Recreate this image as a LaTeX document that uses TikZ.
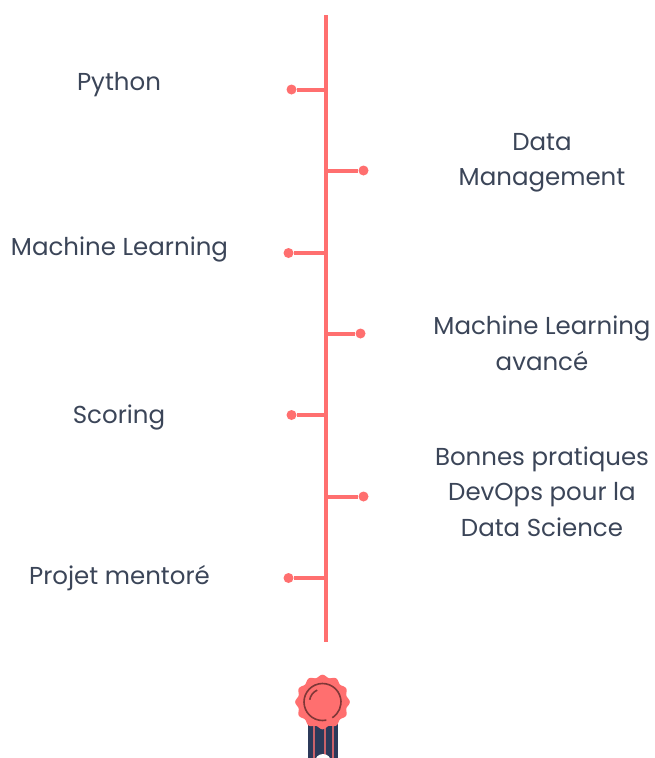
\documentclass[tikz,border=0pt]{standalone}
\usepackage{fontspec}
\setmainfont{Poppins}
\definecolor{coral}{HTML}{FF6F6F}
\definecolor{slate}{HTML}{3B4558}
\definecolor{ribbon}{HTML}{2C3A5A}
\tikzset{
  label/.style = {color = slate, font = \fontsize{24.5}{35.5}\selectfont, align = center},
  spine/.style = {color = coral, line width = 4.5pt},
  tick/.style = {color = coral, line width = 4pt},
  dot/.style = {circle, fill = coral, inner sep = 0pt, minimum size = 10pt},
  ring/.style = {color = black!50!coral, line width = 1.6pt}
}
\begin{document}
\begin{tikzpicture}[x = 1pt, y = -1pt]
\useasboundingbox (0,0) rectangle (654,758);
% timeline
\coordinate (top) at (326,15);
\coordinate (bottom) at (326,642);
\draw [spine] (top) -- (bottom);
% left side
\node [dot] (python) at (291.5,89.5) {};
\node [dot] (ml) at (288.5,253) {};
\node [dot] (scoring) at (291.5,415) {};
\node [dot] (projet) at (288.5,578) {};
% right side
\node [dot] (data) at (363.5,170.5) {};
\node [dot] (mlplus) at (360.5,333.5) {};
\node [dot] (devops) at (363.5,496.5) {};
\foreach \n in {python, ml, scoring, projet, data, mlplus, devops}
  \draw [tick] (\n) -- (\n -| top);
% labels
\node [label] (tpython) at (119,85) {Python};
\node [label] (tml) at (119.5,249.5) {Machine Learning};
\node [label] (tscoring) at (119,417.5) {Scoring};
\node [label] (tprojet) at (119.5,578.5) {Projet mentoré};
\node [label] (tdata) at (542,163) {Data\\Management};
\node [label] (tmlplus) at (542,343.5) {Machine Learning\\avancé};
\node [label] (tdevops) at (542,491.5) {Bonnes pratiques\\DevOps pour la\\Data Science};
% medal
\coordinate (seal) at (322.5,702);
\fill [ribbon] (308,724) rectangle (338,758);
\foreach \x in {314,325,333}
  \draw [color = coral!75!ribbon, line width = 1.6pt] (\x,724) -- (\x,758);
\fill [coral] plot [domain = 0:360, samples = 145, smooth] ({322.5 + (26 + 1.3*cos(12*\x))*cos(\x)}, {702 + (26 + 1.3*cos(12*\x))*sin(\x)});
\draw [ring] (seal) ++(78:18.5) arc [start angle = 78, end angle = 418, radius = 18.5];
\draw [ring] (seal) ++(190:13) arc [start angle = 190, end angle = 246, radius = 13];
\fill [white] (323,762) circle [radius = 8];
\end{tikzpicture}
\end{document}
